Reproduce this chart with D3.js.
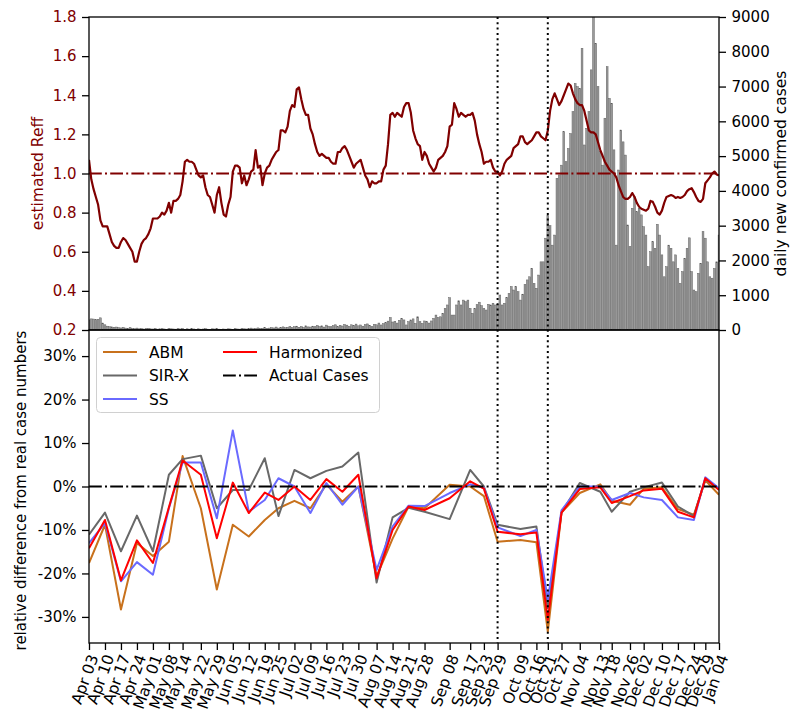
<!DOCTYPE html>
<html>
<head>
<meta charset="utf-8">
<script src="https://cdn.jsdelivr.net/npm/d3@7"></script>
<style>
  body { margin: 0; background: #fff; }
  text { font-family: "DejaVu Sans", sans-serif; }
</style>
</head>
<body>
<div id="chart"></div>
<script>
// daily series start on this day, one value per day
const startDate = '2020-04-03';

const dailyCases = [
  290, 320, 315, 300, 310, 350, 200, 150, 110, 95,
  90, 80, 85, 70, 60, 75, 55, 50, 65, 45,
  40, 55, 35, 45, 30, 40, 50, 35, 30, 45,
  25, 35, 40, 30, 20, 45, 35, 30, 25, 40,
  30, 45, 20, 35, 25, 40, 30, 20, 35, 25,
  30, 40, 25, 20, 35, 30, 45, 25, 20, 30,
  25, 35, 30, 20, 40, 30, 25, 45, 35, 30,
  40, 55, 35, 45, 60, 40, 50, 65, 45, 55,
  70, 60, 85, 55, 75, 90, 65, 80, 100, 70,
  95, 110, 80, 100, 75, 120, 90, 85, 110, 95,
  130, 100, 120, 85, 140, 110, 95, 125, 150, 100,
  135, 115, 160, 140, 105, 150, 130, 170, 120, 145,
  110, 155, 175, 130, 100, 165, 150, 200, 145, 185,
  210, 255, 360, 230, 250, 200, 280, 330, 290, 145,
  240, 290, 320, 190, 380, 240, 190, 260, 240, 200,
  260, 335, 430, 360, 380, 480, 620, 720, 930, 430,
  430, 720, 840, 720, 860, 815, 860, 620, 480, 620,
  730, 800, 700, 620, 575, 740, 720, 770, 720, 740,
  1006, 720, 770, 930, 1050, 1250, 1150, 1250, 1100, 860,
  1030, 1310, 1440, 1530, 1770, 1340, 1200, 1580, 1960, 1960,
  2640, 3300, 3000, 2440, 2730, 4360, 4460, 4740, 5700, 4840,
  5220, 5650, 6280, 7090, 7000, 6950, 8100, 5320, 5800, 6280,
  7480, 9600, 8240, 7000, 5130, 4740, 6090, 7570, 6660, 6520,
  5180, 2440, 4600, 5750, 5410, 5030, 3020, 2400, 3500, 3830,
  3400, 3500, 3310, 2970, 2730, 1820, 2250, 2540, 2350, 3040,
  2730, 2160, 1530, 1820, 2440, 2350, 1960, 2160, 1770, 1340,
  1680, 2060, 2350, 2650, 1680, 1150, 1100, 1630, 1920, 2830,
  2640, 1960, 1530, 1490, 1770, 1960, 2730
];

const reff = [
  1.07, 0.97, 0.92, 0.88, 0.84, 0.76, 0.73, 0.73, 0.73, 0.69,
  0.65, 0.63, 0.62, 0.62, 0.65, 0.67, 0.66, 0.64, 0.62, 0.60,
  0.55, 0.55, 0.60, 0.64, 0.66, 0.67, 0.69, 0.72, 0.77, 0.77,
  0.77, 0.78, 0.80, 0.79, 0.81, 0.85, 0.80, 0.86, 0.86, 0.87,
  0.89, 0.96, 1.06, 1.07, 1.06, 1.06, 1.05, 1.02, 0.99, 0.98,
  0.99, 0.93, 0.89, 0.88, 0.84, 0.80, 0.89, 0.93, 0.85, 0.79,
  0.78, 0.84, 0.88, 1.01, 1.04, 1.04, 1.03, 0.95, 0.99, 0.94,
  0.97, 1.01, 1.02, 1.12, 1.03, 1.04, 0.94, 1.00, 1.03, 1.04,
  1.07, 1.09, 1.11, 1.12, 1.22, 1.22, 1.21, 1.24, 1.32, 1.35,
  1.34, 1.43, 1.44, 1.38, 1.33, 1.30, 1.30, 1.23, 1.20, 1.15,
  1.11, 1.09, 1.10, 1.09, 1.08, 1.08, 1.06, 1.05, 1.05, 1.11,
  1.11, 1.13, 1.14, 1.12, 1.09, 1.06, 1.03, 1.05, 1.06, 1.07,
  1.03, 0.99, 0.97, 0.93, 0.96, 0.95, 0.95, 0.96, 0.96, 1.02,
  1.04, 1.15, 1.30, 1.31, 1.29, 1.31, 1.30, 1.29, 1.34, 1.36,
  1.36, 1.31, 1.22, 1.18, 1.15, 1.14, 1.07, 1.11, 1.09, 1.05,
  1.03, 1.01, 1.03, 1.07, 1.08, 1.09, 1.11, 1.14, 1.24, 1.25,
  1.36, 1.33, 1.29, 1.31, 1.30, 1.29, 1.30, 1.30, 1.31, 1.27,
  1.20, 1.15, 1.11, 1.05, 1.06, 1.06, 1.07, 1.03, 1.01, 1.01,
  0.99, 1.01, 1.05, 1.07, 1.08, 1.09, 1.13, 1.14, 1.15, 1.19,
  1.19, 1.16, 1.15, 1.16, 1.17, 1.19, 1.21, 1.21, 1.19, 1.18,
  1.17, 1.22, 1.32, 1.38, 1.41, 1.38, 1.35, 1.37, 1.40, 1.43,
  1.46, 1.45, 1.41, 1.38, 1.36, 1.35, 1.35, 1.32, 1.27, 1.22,
  1.21, 1.21, 1.20, 1.16, 1.12, 1.09, 1.06, 1.04, 1.02, 1.01,
  1.00, 0.98, 0.94, 0.91, 0.88, 0.87, 0.87, 0.88, 0.90, 0.88,
  0.85, 0.83, 0.82, 0.815, 0.81, 0.82, 0.86, 0.855, 0.83, 0.80,
  0.79, 0.81, 0.85, 0.88, 0.885, 0.89, 0.885, 0.875, 0.88, 0.875,
  0.88, 0.89, 0.91, 0.92, 0.925, 0.905, 0.88, 0.86, 0.855, 0.87,
  0.95, 0.965, 0.98, 1.00, 1.01, 0.995, 0.99
];

// evaluation dates of the lower panel (also the x tick labels)
const evalDates = [
  '2020-04-03', '2020-04-10', '2020-04-17', '2020-04-24', '2020-05-01', '2020-05-08',
  '2020-05-14', '2020-05-22', '2020-05-29', '2020-06-05', '2020-06-12', '2020-06-19',
  '2020-06-25', '2020-07-02', '2020-07-09', '2020-07-16', '2020-07-23', '2020-07-30',
  '2020-08-07', '2020-08-14', '2020-08-21', '2020-08-28', '2020-09-08', '2020-09-17',
  '2020-09-23', '2020-09-29', '2020-10-09', '2020-10-16', '2020-10-21', '2020-10-27',
  '2020-11-04', '2020-11-13', '2020-11-18', '2020-11-26', '2020-12-02', '2020-12-10',
  '2020-12-17', '2020-12-24', '2020-12-29', '2021-01-04'
];

const abm = [-17.6, -8.8, -28.3, -13.0, -16.0, -12.7, 7.0, -5.0, -23.7, -8.8,
  -11.5, -7.7, -5.0, -3.3, -5.0, 0.5, -3.5, 0.0, -20.7, -12.0,
  -4.6, -5.0, 0.4, 0.0, -2.2, -12.7, -12.3, -12.8, -33.4, -6.0,
  -1.5, 0.5, -3.3, -4.2, -0.5, -0.2, -5.2, -6.5, 1.4, -1.9];
const sirx = [-11.1, -6.0, -14.9, -6.7, -14.9, 2.7, 6.3, 7.1, -5.0, -0.8,
  -0.8, 6.5, -6.8, 3.8, 1.9, 3.6, 4.6, 7.8, -22.1, -7.1,
  -4.9, -5.8, -7.5, 3.8, 0.0, -8.8, -9.8, -9.2, -28.0, -6.0,
  0.8, -1.2, -5.8, -1.2, -0.2, 0.9, -4.6, -6.8, 1.7, -0.6];
const ss = [-13.0, -8.4, -21.8, -17.4, -20.3, -5.0, 5.5, 5.5, -7.3, 12.9,
  -5.8, -3.1, 1.9, 0.0, -6.1, 0.8, -4.2, 0.0, -19.2, -9.2,
  -4.4, -4.5, -1.5, 0.5, -0.3, -9.4, -11.4, -10.0, -26.0, -5.5,
  0.0, 0.0, -3.1, -1.5, -2.5, -3.1, -7.1, -7.7, 2.1, -0.4];
const harmonized = [-14.2, -7.7, -21.6, -12.4, -17.6, -4.8, 6.0, 2.7, -11.9, 0.9,
  -6.1, -1.4, -3.1, 0.0, -3.1, 1.7, -1.2, 2.7, -21.1, -10.0,
  -4.6, -5.4, -2.7, 1.2, -0.5, -10.4, -11.0, -10.6, -30.7, -6.0,
  -0.6, -0.2, -3.8, -2.2, -0.9, -0.5, -5.8, -7.1, 1.9, -0.8];

const markerDates = ['2020-09-29', '2020-10-21'];

const reffTicks = [0.2, 0.4, 0.6, 0.8, 1.0, 1.2, 1.4, 1.6, 1.8];
const caseTicks = [0, 1000, 2000, 3000, 4000, 5000, 6000, 7000, 8000, 9000];
const diffTicks = [-30, -20, -10, 0, 10, 20, 30];

const W = 790, H = 713;
const L = 89, R = 719, T = 17, M = 330, B = 643;
const FONT = '15px';
const reffColor = '#800000';

const svg = d3.select('#chart').append('svg')
    .attr('width', W)
    .attr('height', H);

const parse = d3.utcParse('%Y-%m-%d');
const t0 = parse(startDate);
const days = dailyCases.map((d, i) => d3.utcDay.offset(t0, i));
const evals = evalDates.map(parse);

let x = d3.scaleUtc()
    .domain([parse('2020-04-03'), parse('2021-01-04')])
    .range([L, R]);
let yReff = d3.scaleLinear().domain([0.2, 1.8]).range([M, T]);
let yCases = d3.scaleLinear().domain([0, 9000]).range([M, T]);
let yDiff = d3.scaleLinear().domain([-36, 36]).range([B, M]);

let defs = svg.append('defs');
defs.append('clipPath').attr('id', 'clipTop')
    .append('rect').attr('x', L).attr('y', T).attr('width', R - L).attr('height', M - T);
defs.append('clipPath').attr('id', 'clipBot')
    .append('rect').attr('x', L).attr('y', M).attr('width', R - L).attr('height', B - M);

// ---- top panel ----
let top_g = svg.append('g').attr('clip-path', 'url(#clipTop)');
let bw = (x(days[1]) - x(days[0])) * 0.8;

top_g.selectAll('.bar')
    .data(dailyCases)
    .join('rect')
    .attr('class', 'bar')
    .attr('x', (d, i) => x(days[i]) - bw / 2)
    .attr('width', bw)
    .attr('y', d => yCases(d))
    .attr('height', d => yCases(0) - yCases(d))
    .attr('fill', '#9a9a9a')
    .attr('stroke', '#5a5a5a')
    .attr('stroke-width', 0.45);

top_g.append('line')
    .attr('x1', L).attr('x2', R)
    .attr('y1', yReff(1)).attr('y2', yReff(1))
    .attr('stroke', reffColor)
    .attr('stroke-width', 2)
    .attr('stroke-dasharray', '12.8,3.2,2,3.2');

top_g.append('path')
    .datum(reff)
    .attr('fill', 'none')
    .attr('stroke', reffColor)
    .attr('stroke-width', 2.2)
    .attr('stroke-linejoin', 'round')
    .attr('d', d3.line().x((d, i) => x(days[i])).y(d => yReff(d)));

// ---- bottom panel ----
let bot_g = svg.append('g').attr('clip-path', 'url(#clipBot)');

const seriesList = [
    {name: 'ABM', values: abm, color: '#c8711c'},
    {name: 'SIR-X', values: sirx, color: '#686868'},
    {name: 'SS', values: ss, color: '#6a6aff'},
    {name: 'Harmonized', values: harmonized, color: '#ff0000'}
];

let diffLine = d3.line().x((d, i) => x(evals[i])).y(d => yDiff(d));

seriesList.forEach(s => {
    bot_g.append('path')
        .datum(s.values)
        .attr('fill', 'none')
        .attr('stroke', s.color)
        .attr('stroke-width', 2)
        .attr('stroke-linejoin', 'round')
        .attr('d', diffLine);
});

bot_g.append('path')
    .datum(evals.map(() => 0))
    .attr('fill', 'none')
    .attr('stroke', '#000')
    .attr('stroke-width', 2)
    .attr('stroke-dasharray', '12.8,3.2,2,3.2')
    .attr('d', diffLine);

// vertical markers through both panels
svg.selectAll('.marker')
    .data(markerDates.map(parse))
    .join('line')
    .attr('class', 'marker')
    .attr('x1', d => x(d)).attr('x2', d => x(d))
    .attr('y1', T).attr('y2', B)
    .attr('stroke', '#000')
    .attr('stroke-width', 2)
    .attr('stroke-dasharray', '2,3.3');

// ---- axes ----
function styleAxis(g) {
    g.attr('font-size', FONT).attr('font-family', '"DejaVu Sans", sans-serif');
    g.select('.domain').remove();
    g.selectAll('.tick line').attr('stroke', '#000').attr('stroke-width', 1.3);
    g.selectAll('.tick text').attr('fill', '#000');
}

let reffAxis = svg.append('g')
    .attr('transform', `translate(${L},0)`)
    .call(d3.axisLeft(yReff).tickValues(reffTicks).tickFormat(d3.format('.1f')).tickSize(7).tickPadding(5.5))
    .call(styleAxis);
reffAxis.selectAll('.tick text').attr('fill', reffColor);

svg.append('g')
    .attr('transform', `translate(${R},0)`)
    .call(d3.axisRight(yCases).tickValues(caseTicks).tickFormat(d3.format('d')).tickSize(7).tickPadding(5.5))
    .call(styleAxis);

svg.append('g')
    .attr('transform', `translate(${L},0)`)
    .call(d3.axisLeft(yDiff).tickValues(diffTicks).tickFormat(d => d + '%').tickSize(7).tickPadding(5.5))
    .call(styleAxis);

let xAxis = svg.append('g')
    .attr('transform', `translate(0,${B})`)
    .call(d3.axisBottom(x).tickValues(evals).tickFormat(d3.utcFormat('%b %d')).tickSize(7))
    .call(styleAxis);
xAxis.selectAll('.tick text')
    .attr('y', 0)
    .attr('dy', 0)
    .attr('font-size', '15.5px')
    .attr('text-anchor', 'end')
    .attr('transform', 'translate(9,14) rotate(-70)');

// frames
[[T, M], [M, B]].forEach(([y0, y1]) => {
    svg.append('rect')
        .attr('x', L).attr('y', y0)
        .attr('width', R - L).attr('height', y1 - y0)
        .attr('fill', 'none')
        .attr('stroke', '#000')
        .attr('stroke-width', 1.3);
});

// axis labels
svg.append('text')
    .attr('transform', `translate(43,${(T + M) / 2}) rotate(-90)`)
    .attr('text-anchor', 'middle')
    .attr('font-size', '15.5px')
    .attr('fill', reffColor)
    .text('estimated Reff');

svg.append('text')
    .attr('transform', `translate(786,${(T + M) / 2}) rotate(-90)`)
    .attr('text-anchor', 'middle')
    .attr('font-size', '15.5px')
    .attr('fill', '#000')
    .text('daily new confirmed cases');

svg.append('text')
    .attr('transform', `translate(26,${(M + B) / 2 + 4}) rotate(-90)`)
    .attr('text-anchor', 'middle')
    .attr('font-size', FONT)
    .attr('fill', '#000')
    .text('relative difference from real case numbers');

// ---- legend ----
let legend = svg.append('g');
legend.append('rect')
    .attr('x', 96.5).attr('y', 337.5)
    .attr('width', 283).attr('height', 75)
    .attr('rx', 4)
    .attr('fill', '#fff').attr('fill-opacity', 0.8)
    .attr('stroke', '#d0d0d0');

const legendItems = [
    {name: 'ABM', color: '#c8711c', dash: null, col: 0, row: 0},
    {name: 'SIR-X', color: '#686868', dash: null, col: 0, row: 1},
    {name: 'SS', color: '#6a6aff', dash: null, col: 0, row: 2},
    {name: 'Harmonized', color: '#ff0000', dash: null, col: 1, row: 0},
    {name: 'Actual Cases', color: '#000', dash: '12.8,3.2,2,3.2', col: 1, row: 1}
];

legendItems.forEach(it => {
    let lx = it.col ? 223 : 103;
    let ly = 352 + it.row * 23.5;
    legend.append('line')
        .attr('x1', lx).attr('x2', lx + 34)
        .attr('y1', ly).attr('y2', ly)
        .attr('stroke', it.color)
        .attr('stroke-width', 2)
        .attr('stroke-dasharray', it.dash);
    legend.append('text')
        .attr('x', lx + 46).attr('y', ly)
        .attr('dy', '0.36em')
        .attr('font-size', '15.5px')
        .attr('fill', '#000')
        .text(it.name);
});
</script>
</body>
</html>
